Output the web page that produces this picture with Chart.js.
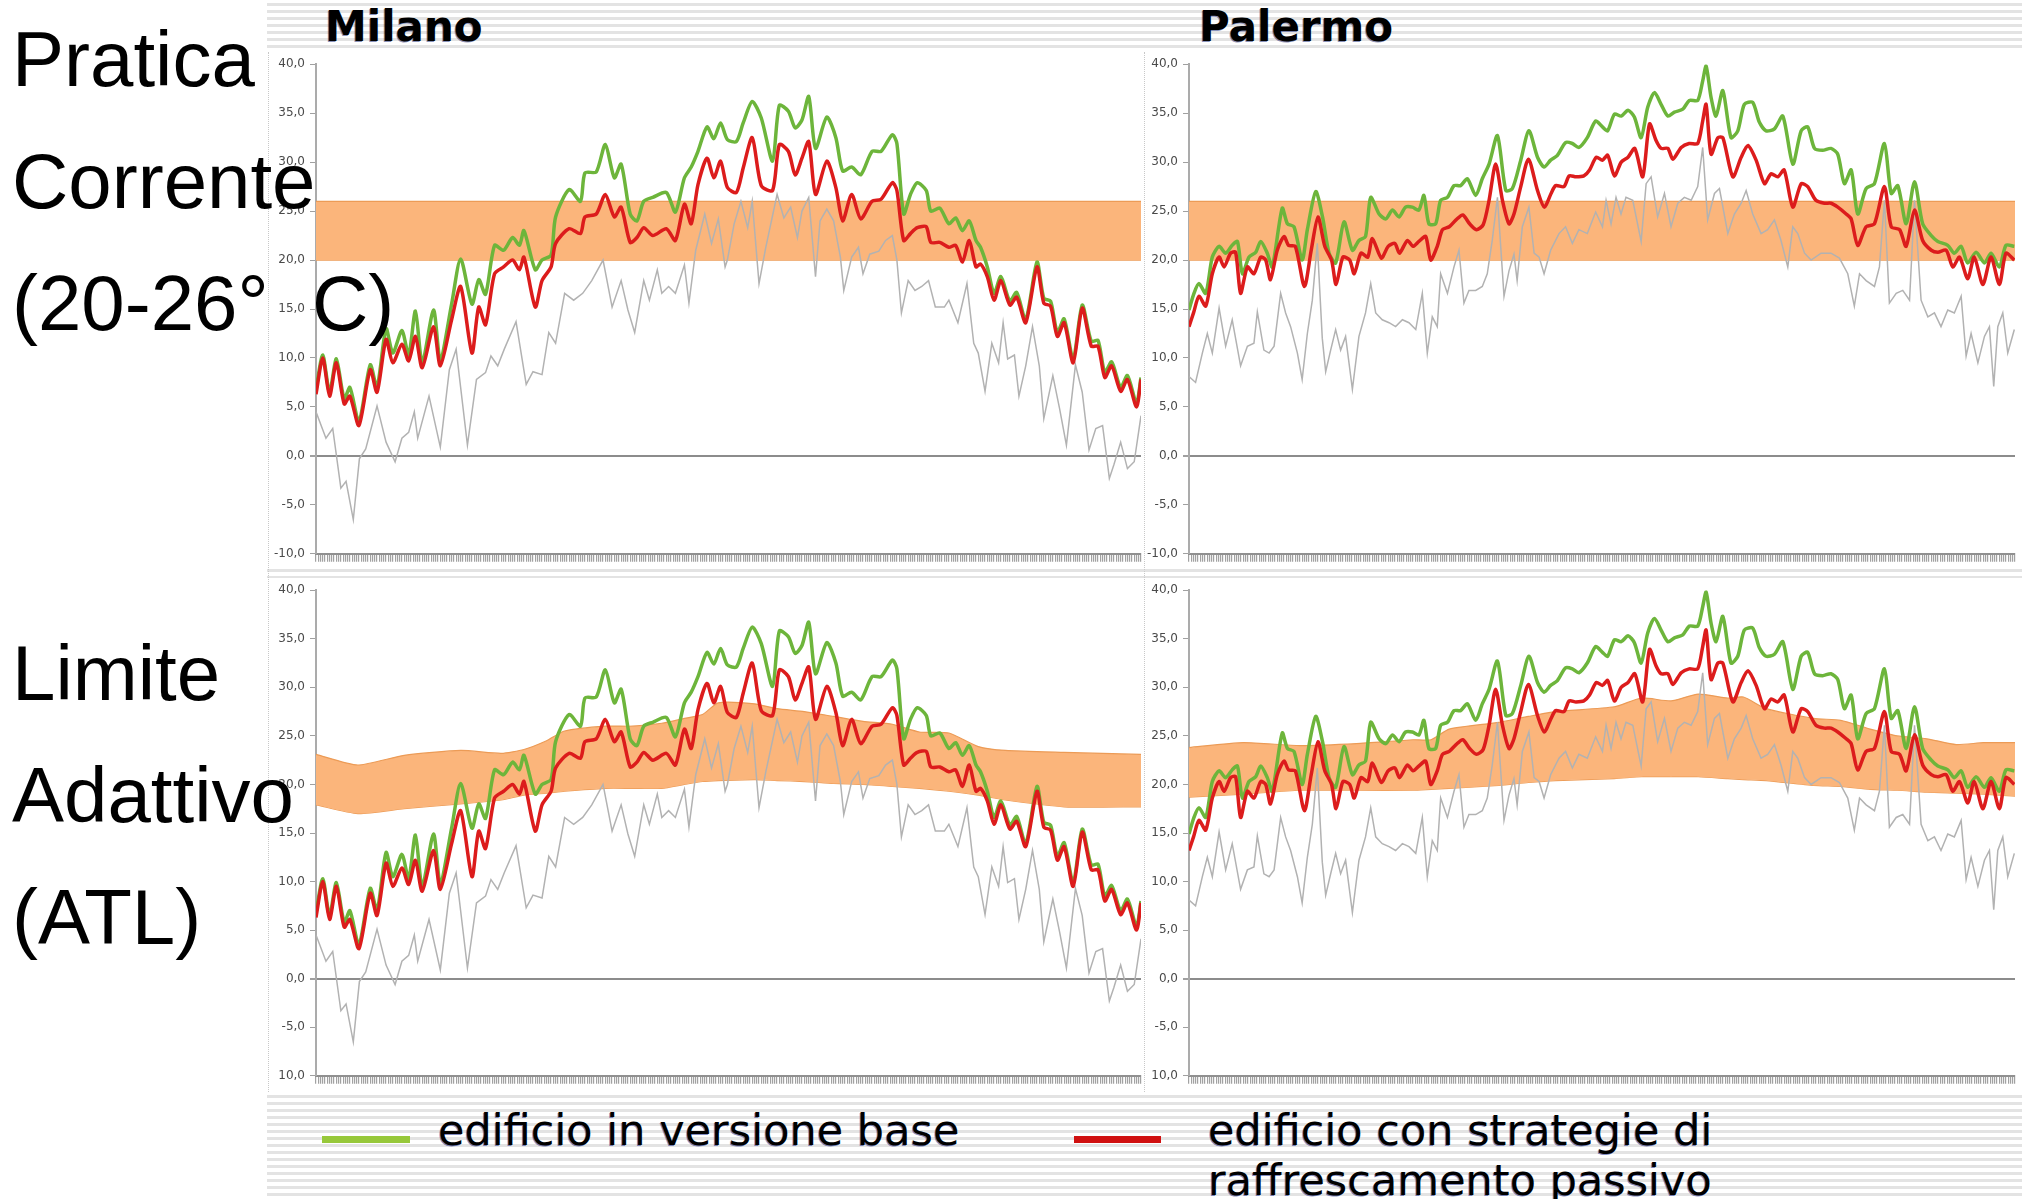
<!DOCTYPE html>
<html>
<head>
<meta charset="utf-8">
<script src="https://cdn.jsdelivr.net/npm/chart.js@4.4.1/dist/chart.umd.min.js"></script>
<style>
  body { margin: 0; background: #fff; }
  #page { position: relative; width: 2022px; height: 1199px; overflow: hidden; background: #fff; }
  .stripes { position: absolute; background: repeating-linear-gradient(to bottom, #fff 0px, #fff 3px, #e3e3e3 3px, #e3e3e3 6px, #fff 6px, #fff 7px); }
  canvas { position: absolute; }
  .side { position: absolute; left: 12px; font-family: "Liberation Sans", Arial, sans-serif; font-size: 78px; line-height: 122px; color: #000; white-space: pre; z-index: 5; }
  .title { position: absolute; top: 6px; font-family: "DejaVu Sans", sans-serif; font-weight: bold; font-size: 42px; line-height: 42px; color: #000; text-shadow: -1px 1px 0 rgba(20,40,120,0.5); }
  .legtext { position: absolute; font-family: "DejaVu Sans", sans-serif; font-size: 43px; line-height: 50px; color: #000; white-space: pre; text-shadow: -1px 1px 0 rgba(20,40,140,0.55); }
  .legline { position: absolute; height: 7px; }
  .dots { position: absolute; border-left: 1px dotted #c8c8c8; }
</style>
</head>
<body>
<div id="page">
  <div class="stripes" style="left:267px; top:0; width:1755px; height:52px;"></div>
  <div class="stripes" style="left:267px; top:566px; width:1755px; height:12px;"></div>
  <div class="stripes" style="left:267px; top:1092px; width:1755px; height:107px;"></div>
  <div class="dots" style="left:268px; top:52px; height:1040px;"></div>
  <div class="dots" style="left:1144px; top:52px; height:1040px;"></div>

  <div class="title" style="left:325px;">Milano</div>
  <div class="title" style="left:1199px;">Palermo</div>

  <canvas id="milanoTop"></canvas>
  <canvas id="palermoTop"></canvas>
  <canvas id="milanoBottom"></canvas>
  <canvas id="palermoBottom"></canvas>

  <div class="side" style="top:-2px;">Pratica
Corrente
(20-26°  C)</div>
  <div class="side" style="top:612px;">Limite
Adattivo
(ATL)</div>

  <div class="legline" style="left:322px; top:1136px; width:88px; background:#97c83a;"></div>
  <div class="legtext" style="left:438px; top:1105px;">edificio in versione base</div>
  <div class="legline" style="left:1074px; top:1136px; width:87px; background:#d01010;"></div>
  <div class="legtext" style="left:1208px; top:1105px;">edificio con strategie di
raffrescamento passivo</div>
</div>

<script>
// Milano - building temperatures (green = base, red = passive cooling)
const milanoDays = [0,3,6,9,12.5,15,19,24,27,31,34,38,41,44,47,52,55,60,64,69,72,75,79,83,87,90,92,97,100,104,106,112,117,119,124,128,132,135,139,142,145,149,155,159,163,166,169,173,176,179,
  182,186,189,193,197,202,205,209,212,215,218,221,226,230,233,237,241,246,250,255,257,260,263,266,270,272,276,280,283,286,289,292,294,297,300,303,307,310,314,319,322,325,328,331,335,339,343,346,349,352,356,359,363,365];
const milanoRed = [6.3,10.0,6.1,9.5,5.3,6.1,3.1,8.8,6.5,11.9,9.5,11.4,9.7,12.2,9.0,13.2,9.2,13.9,17.3,10.5,15.2,13.4,18.6,19.3,20.0,19.0,20.3,15.2,17.9,19.3,21.7,23.2,22.7,24.4,24.7,26.7,24.4,25.4,21.8,22.3,23.3,22.5,23.2,22.0,25.7,23.7,27.7,30.4,28.4,30.1,
  27.4,26.9,29.4,32.5,27.6,27.1,31.8,31.1,28.7,30.4,32.1,26.7,30.1,27.4,24.0,26.7,24.2,26.0,26.2,27.9,27.1,22.0,22.7,23.3,23.4,21.8,21.8,21.3,21.5,19.8,22.0,19.3,19.6,18.3,15.9,17.9,15.4,16.2,13.6,19.3,15.6,15.3,12.2,13.6,9.5,15.1,11.2,11.2,8.0,9.2,6.6,7.8,5.0,7.8];
const milanoGreen = [6.8,10.3,6.5,9.9,5.8,7.0,3.5,9.3,7.0,13.0,10.5,12.8,10.3,14.8,9.5,14.9,9.8,15.5,20.1,15.5,18.0,16.5,21.5,21.0,22.3,21.5,23.0,19.0,20.0,20.5,24.4,27.2,26.0,28.9,29.0,31.8,28.4,29.8,24.7,24.0,26.0,26.4,26.9,24.9,28.4,29.5,31.1,33.6,32.4,34.0,
  32.3,32.1,34.0,36.2,34.5,30.1,35.8,35.2,33.5,34.3,36.7,31.4,34.6,32.5,29.1,29.5,28.7,31.1,31.1,32.8,31.9,24.7,26.7,27.9,27.1,25.0,25.3,23.7,24.3,23.0,24.0,22.0,21.3,19.3,16.6,18.3,15.8,16.7,13.9,19.8,16.1,15.8,12.6,14.0,9.9,15.4,11.7,11.8,8.5,9.6,7.0,8.2,5.4,8.0];
// Milano - outdoor air temperature
const milanoOutDays = [0,4.4,7.4,11,13.3,16.5,19.2,22,27,31,35,38,41,43.5,45,50,55,59,62,67,71,75,77.4,80.4,83.3,88.5,93,96,100,103,106,110,114,118,122,127,131,135,138,141,145,147.5,151,153,156,159,163,165,168,172,175,178,181,
  182,185,188,191,193,196,199,204,207,210,213,215,218,221,223,226,229,232,233.5,237,240,242,245,249,252,255,257,259,262,265,268,271,274,278,280,284,288,291,293,296,299,302,304,306,309,311,314,317,320,322,326,329,332,336,339,342,345,348,351,353,356,359,362,365];
const milanoOut = [4.5,1.8,2.8,-3.3,-2.6,-6.5,-0.3,0.7,5.1,1.4,-0.6,1.8,2.4,4.5,1.8,6.1,0.9,8.8,10.9,1.1,7.8,8.5,10.2,9.2,10.9,13.7,7.3,8.6,8.3,12.6,11.5,16.6,15.9,16.6,17.9,20.0,15.2,17.9,14.9,12.6,17.9,15.9,19.0,16.6,17.3,16.6,19.5,15.6,21.0,24.7,21.7,24.2,19.3,
  20.0,23.7,26.0,23.3,26.0,17.6,21.3,26.7,24.3,25.4,22.3,25.0,26.4,18.3,24.0,25.2,24.0,20.3,16.9,20.3,21.3,18.6,20.6,20.9,22.0,22.5,20.0,14.6,17.9,16.9,17.3,17.9,15.2,15.2,15.9,13.6,17.6,11.5,10.5,6.6,11.5,9.5,13.6,9.9,10.3,6.1,9.2,13.2,9.2,3.8,8.2,4.8,1.1,9.3,6.5,0.6,2.8,3.1,-2.3,-0.9,1.4,-1.3,-0.6,4.1];

// Palermo - building temperatures
const palermoRedDays = [0,2,4.4,7.4,10.3,13.3,15.5,18.4,20.6,22.8,25.8,28.7,31.7,33.9,36,39,42,44,47,51,54,57,60,63,65,68,71,73,76,79,81,85,88,91,93,96.5,99,101.6,104.6,106.8,109.7,112,115,118,121,124,127,130,132.6,135.5,138.5,141.4,143.6,146.6,150,154,157,160,162,165.7,168,171,174.5,177,180,182.7,
  185,188,191,194,197,200.5,203.5,206.4,208.6,211.6,213.8,217.5,221,224.8,227,228.5,230.7,233.7,235.9,240.3,244,247,250.6,254.3,257.2,260.2,263,266.8,270.5,273.4,277,280.8,283.7,286.7,290.4,292.6,295.5,299.2,302.9,307.3,310.3,314,316.9,320.6,324.2,328,330.9,334.6,337.5,340.5,344.1,347,350.8,354.4,358.1,361,364.7];
const palermoRed = [13.2,14.6,16.3,15.3,18.6,20.3,19.3,20.7,20.8,16.6,19.3,18.6,20.3,20.0,18.0,21.0,22.4,21.5,21.4,17.3,21.0,24.4,21.4,20.0,17.5,20.3,20.0,18.6,20.7,20.3,22.2,20.2,21.4,21.7,20.7,22.0,21.4,21.9,22.4,20.0,21.4,23.1,23.4,24.1,24.6,23.7,23.1,23.6,26.1,29.8,26.1,23.7,24.7,27.5,30.3,27.1,25.4,26.8,27.6,27.5,28.6,28.5,28.6,29.2,30.5,30.2,
  30.7,28.6,30.0,30.5,31.4,28.5,33.9,32.2,31.4,31.4,30.3,31.5,31.9,31.9,34.2,35.9,30.8,32.5,32.5,28.5,30.5,31.7,30.2,27.8,28.8,28.5,29.2,25.4,27.8,27.5,26.1,25.8,25.8,25.4,24.7,24.2,21.5,23.4,23.7,27.5,23.4,23.1,21.4,25.1,22.0,21.0,20.8,21.0,19.3,20.3,18.1,20.3,17.5,20.3,17.5,20.7,20.0];
const palermoGreenDays = [0,2.2,4.4,7.4,10.3,13.3,16.2,19.1,21.4,23.6,26.5,29.5,31.7,34.6,36.8,41.2,43.5,46.4,50,52.3,56,59,61.9,64.8,68.5,72.2,75.1,78,80.3,84,87,89.9,92.8,95.7,98.7,101.6,103.8,106,109,111.2,114.2,117.1,120,123,126.7,129.6,132.6,136.3,140,142.9,146.6,150.2,154,156.9,159.8,162.8,166.4,169.4,172.3,176,179.7,182.7,
  185,188,191,194,196.8,199.8,202.7,205.7,208.6,211.6,214.5,218.2,221.1,224.8,227,228.5,230.7,232.9,235.9,239.5,242.5,245.4,249.1,252,255,258.7,262.4,266.8,270.5,273.4,276.4,280,283.7,286.7,289.6,292.6,295.5,299.2,302.9,307.3,310.3,313.2,316.9,320.6,324.2,328,330.9,335.3,338.2,341.2,344.1,347.8,351.5,354.4,358.1,361,364.7];
const palermoGreen = [14.9,16.6,17.6,16.6,20.3,21.4,20.7,21.5,21.9,18.6,20.3,20.8,21.9,20.7,19.3,25.3,23.7,23.4,20.0,23.1,27.0,24.4,20.7,19.7,23.9,21.0,22.0,22.4,26.4,24.7,24.2,25.1,24.4,25.4,25.4,25.1,26.6,23.7,23.7,26.1,26.4,27.6,27.6,28.3,26.6,28.3,29.8,32.7,27.1,27.3,30.2,33.2,30.5,29.5,30.2,30.7,32.0,31.9,31.5,32.5,34.2,33.6,
  33.2,34.9,34.7,35.3,34.6,32.5,35.6,37.1,35.9,34.7,35.1,35.4,36.3,36.3,38.3,39.8,36.6,34.7,37.3,32.5,33.2,35.9,36.1,34.1,33.2,33.4,34.7,29.8,33.2,33.6,31.4,31.2,31.4,30.8,27.8,29.2,24.7,27.3,27.8,31.9,26.8,27.6,23.7,28.0,23.7,22.5,21.9,21.5,20.7,21.4,19.7,20.8,19.7,20.7,19.3,21.5,21.4];
// Palermo - outdoor air temperature
const palermoOutDays = [0,2.9,5.9,8.1,10.3,13.3,16.2,19.1,22.8,25.8,28.7,30.2,33.1,35.4,37.6,40.5,42.7,44.9,47.9,50,52.3,54.5,56.7,58.9,60.4,62.6,64.8,67,69.2,72.2,75.1,78,80.3,82.5,85.4,88.4,91.3,94.3,97.2,100.2,103.1,105.3,107.5,109.7,111.2,114.2,117.1,119.3,121.5,123.7,126.7,129.6,131.8,134,136.3,139.2,141.4,143.6,145,147.3,150.2,152.5,154.7,156.9,159.8,163.5,166.4,169.4,172.3,176,179.7,182.7,
  184.3,186.5,188.7,190.9,193.1,196.1,199.8,202,204.2,207.1,210.1,213,216,218.9,221.9,224.8,227,229.2,232.2,234.4,238.1,241,244,246.2,249.1,252.8,255.7,258.7,261.6,264.6,266.8,269,272,274.9,279.3,283.7,287.4,291.1,294,296.3,299.2,302.9,305.1,307.3,309.5,312.5,315.4,318.4,320.6,323.5,326.5,329.4,332.3,335.3,338.2,341.2,343.4,345.6,348.6,351.5,353.7,355.6,357.4,359.6,361.8,364.7];
const palermoOut = [8.1,7.5,10.5,12.5,10.5,15.1,11.2,13.9,9.2,11.2,11.5,14.7,10.8,10.5,11.2,16.6,14.6,13.2,10.5,7.8,12.5,15.9,21.7,12.0,8.6,10.8,12.9,10.8,12.2,6.8,12.2,14.6,17.6,14.6,13.9,13.6,13.2,13.9,13.6,12.9,16.6,10.5,14.2,13.2,18.6,16.6,19.3,21.0,15.6,16.9,16.9,17.3,18.6,22.0,26.4,16.3,18.9,20.6,17.9,23.4,25.4,20.7,20.3,18.6,21.0,22.7,23.4,21.7,23.1,22.7,24.9,23.4,
  26.1,23.7,26.4,24.7,26.4,26.1,21.9,27.8,28.5,24.4,26.8,23.4,25.8,26.4,26.1,27.5,31.5,24.1,26.8,27.3,22.7,24.7,25.8,27.1,24.7,22.7,23.1,24.1,22.0,19.3,23.4,22.7,20.7,20.0,20.7,20.7,20.2,18.6,15.3,18.6,17.9,17.3,19.3,26.1,15.6,16.6,16.9,15.9,26.1,15.9,14.2,14.6,13.2,14.9,14.6,16.3,10.2,12.5,9.5,12.2,13.2,7.1,13.2,14.6,10.5,12.9];

// comfort bands
const fixedBandDays = [0, 365];
const fixedBandUpper = [26, 26];
const fixedBandLower = [20, 20];

const milanoAtlDays = [0,18.5,39,64,82,92,102,110,128,140,153,163,171,178,194,204,216,229,242,255,267,280,293,305,331,365];
const milanoAtlUpper = [23.1,22.0,23.0,23.5,23.2,23.6,24.5,25.5,26.0,26.0,26.3,26.8,27.2,28.4,28.3,27.8,27.5,27.0,26.5,26.2,25.4,25.3,23.9,23.5,23.3,23.1];
const milanoAtlLower = [17.9,17.0,17.5,18.0,18.4,18.9,19.1,19.3,19.6,19.6,19.6,20.0,20.3,20.4,20.5,20.4,20.3,20.1,20.0,19.8,19.6,19.3,18.9,18.4,17.7,17.7];

const palermoAtlDays = [0,24,49,74,99,107,115,137,150,162,188,200,213,225,238,245,255,276,288,301,313,326,339,351,365];
const palermoAtlUpper = [23.8,24.3,24.0,24.2,24.6,24.6,25.7,26.4,27.0,27.5,28.0,28.9,28.6,29.3,28.9,29.0,27.8,26.8,26.6,25.7,25.0,24.7,24.1,24.3,24.3];
const palermoAtlLower = [18.7,19.0,19.4,19.4,19.4,19.5,19.6,19.9,20.2,20.4,20.6,20.8,20.8,20.8,20.6,20.5,20.4,19.9,19.8,19.5,19.4,19.2,19.1,19.0,18.8];

const yTicks = { min: -10, max: 40, step: 5 };

Chart.defaults.font.family = '"DejaVu Sans", sans-serif';

function pts(days, vals) {
    return days.map((d, i) => ({ x: d, y: vals[i] }));
}

function lineSet(days, vals, color, width, tension) {
    return {
        data: pts(days, vals),
        borderColor: color,
        borderWidth: width,
        pointRadius: 0,
        tension: tension,
        fill: false
    };
}

// dataset 0 is drawn on top, so lines come first and the band last
function buildSets(city, band) {
    return [
        lineSet(city.redDays, city.red, '#dc1c1c', 3.5, 0.25),
        lineSet(city.greenDays, city.green, '#6db53b', 3.5, 0.25),
        lineSet(city.outDays, city.out, '#b2b2b2', 1.5, 0),
        {
            data: pts(band.days, band.upper),
            borderColor: '#ec9b56', borderWidth: 1.2, pointRadius: 0,
            backgroundColor: '#fbb57b', fill: '+1', tension: 0.2
        },
        {
            data: pts(band.days, band.lower),
            borderColor: '#ec9b56', borderWidth: 1.2, pointRadius: 0,
            fill: false, tension: 0.2
        }
    ];
}

function makeChart(id, box, axisWidth, datasets, cutMinus) {
    const canvas = document.getElementById(id);
    canvas.width = box.w;
    canvas.height = box.h;
    canvas.style.left = box.x + 'px';
    canvas.style.top = box.y + 'px';

    new Chart(canvas.getContext('2d'), {
        type: 'line',
        data: { datasets: datasets },
        options: {
            responsive: false,
            animation: false,
            devicePixelRatio: 1,
            layout: { padding: { top: 10, right: 5, bottom: 2, left: 0 } },
            plugins: { legend: { display: false }, tooltip: { enabled: false } },
            scales: {
                x: {
                    type: 'linear', min: 0, max: 365,
                    ticks: { display: false, stepSize: 1, autoSkip: false },
                    grid: { drawOnChartArea: false, drawTicks: true, tickLength: 8, color: '#a2a2a2', lineWidth: 1.2 },
                    border: { display: true, color: '#909090', width: 2 },
                    afterFit: (s) => { s.height = 8; }
                },
                y: {
                    min: yTicks.min, max: yTicks.max,
                    ticks: {
                        stepSize: yTicks.step, color: '#4a4a4a', padding: 5,
                        font: { size: 12 },
                        callback: (v) => {
                            if (cutMinus && v === -10) return '10,0';
                            return v.toFixed(1).replace('.', ',');
                        }
                    },
                    grid: {
                        color: (c) => (c.tick && c.tick.value === 0) ? '#8c8c8c' : 'rgba(0,0,0,0)',
                        lineWidth: (c) => (c.tick && c.tick.value === 0) ? 2 : 1,
                        tickColor: '#a0a0a0', tickLength: 6
                    },
                    border: { display: true, color: '#ababab', width: 2 },
                    afterFit: (s) => { s.width = axisWidth; }
                }
            }
        }
    });
}

const milano = { redDays: milanoDays, red: milanoRed, greenDays: milanoDays, green: milanoGreen, outDays: milanoOutDays, out: milanoOut };
const palermo = { redDays: palermoRedDays, red: palermoRed, greenDays: palermoGreenDays, green: palermoGreen, outDays: palermoOutDays, out: palermoOut };

const fixedBand = { days: fixedBandDays, upper: fixedBandUpper, lower: fixedBandLower };
const milanoAtl = { days: milanoAtlDays, upper: milanoAtlUpper, lower: milanoAtlLower };
const palermoAtl = { days: palermoAtlDays, upper: palermoAtlUpper, lower: palermoAtlLower };

makeChart('milanoTop', { x: 258, y: 52, w: 888, h: 514 }, 58, buildSets(milano, fixedBand), false);
makeChart('palermoTop', { x: 1143, y: 52, w: 877, h: 514 }, 46, buildSets(palermo, fixedBand), false);
makeChart('milanoBottom', { x: 258, y: 578, w: 888, h: 510 }, 58, buildSets(milano, milanoAtl), true);
makeChart('palermoBottom', { x: 1143, y: 578, w: 877, h: 510 }, 46, buildSets(palermo, palermoAtl), true);
</script>
</body>
</html>
